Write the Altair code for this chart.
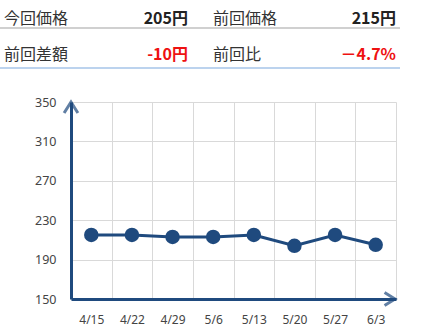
import altair as alt
import pandas as pd

# ---- data ----
dates = ["4/15", "4/22", "4/29", "5/6", "5/13", "5/20", "5/27", "6/3"]
prices = [215, 215, 213, 213, 215, 204, 215, 205]

table_labels = ["今回価格", "前回価格", "前回差額", "前回比"]
table_values = ["205円", "215円", "-10円", "－4.7%"]
table_colors = ["#222222", "#222222", "#ee1111", "#ee1111"]

y_ticks = [150, 190, 230, 270, 310, 350]

NAVY = "#1f4a7e"
W, H = 325, 197

df = pd.DataFrame({"date": dates, "price": prices})

xenc = alt.X(
    "date:N",
    sort=dates,
    scale=alt.Scale(domain=dates, paddingInner=0, paddingOuter=0),
    axis=alt.Axis(
        title=None, labelAngle=0, tickBand="extent", ticks=False,
        grid=True, gridColor="#d9d9d9", gridWidth=1,
        domainColor=NAVY, domainWidth=3,
        labelFont="Noto Sans", labelFontSize=12, labelColor="#444444",
        labelPadding=15,
    ),
)
yenc = alt.Y(
    "price:Q",
    scale=alt.Scale(domain=[150, 350], nice=False, zero=False),
    axis=alt.Axis(
        title=None, values=y_ticks, ticks=False, labelOverlap=False,
        grid=True, gridColor="#d9d9d9", gridWidth=1,
        domainColor=NAVY, domainWidth=3,
        labelFont="Noto Sans", labelFontSize=12.5, labelColor="#444444",
        labelPadding=15,
    ),
)

base = alt.Chart(df)
line = base.mark_line(color=NAVY, strokeWidth=3).encode(x=xenc, y=yenc)
pts = base.mark_circle(color=NAVY, size=210, opacity=1).encode(x=xenc, y=yenc)

# axis arrowheads
arrow_up = alt.Chart(pd.DataFrame({"price": [350]})).mark_point(
    shape="M-1,1.6L0,0L1,1.6", size=190, filled=False, stroke=NAVY, strokeWidth=3
).encode(x=alt.value(0), y=yenc)
arrow_right = alt.Chart(pd.DataFrame({"price": [150]})).mark_point(
    shape="M-1.6,-1L0,0L-1.6,1", size=170, filled=False, stroke=NAVY, strokeWidth=3
).encode(x=alt.value(W - 1), y=yenc)

# header table
tdf = pd.DataFrame({
    "label": table_labels,
    "value": table_values,
    "color": table_colors,
    "lx": [-67, 142, -67, 142],
    "vx": [117, 325, 117, 325],
    "ty": [-83, -83, -47, -47],
})
lab = alt.Chart(tdf).mark_text(
    align="left", baseline="middle", font="Noto Sans CJK JP", fontSize=16, color="#333333"
).encode(x=alt.X("lx:Q", scale=None), y=alt.Y("ty:Q", scale=None), text="label:N")
val = alt.Chart(tdf).mark_text(
    align="right", baseline="middle", font="Noto Sans CJK JP", fontSize=16, fontWeight="bold"
).encode(x=alt.X("vx:Q", scale=None), y=alt.Y("ty:Q", scale=None), text="value:N",
         color=alt.Color("color:N", scale=None))
sep1 = alt.Chart(tdf.head(1)).mark_rule(color="#d0d0d0", strokeWidth=2).encode(
    x=alt.value(-71), x2=alt.value(329), y=alt.value(-74))
sep2 = alt.Chart(tdf.head(1)).mark_rule(color="#bcd3ee", strokeWidth=2).encode(
    x=alt.value(-71), x2=alt.value(329), y=alt.value(-34))

chart = alt.layer(line, pts, arrow_up, arrow_right, lab, val, sep1, sep2).properties(
    width=W, height=H,
    autosize=alt.AutoSizeParams(type="none"),
    padding={"left": 71, "top": 102, "right": 32, "bottom": 35},
).configure_view(stroke=None)

chart.save("out.html", embed_options={"renderer": "svg", "actions": False})
